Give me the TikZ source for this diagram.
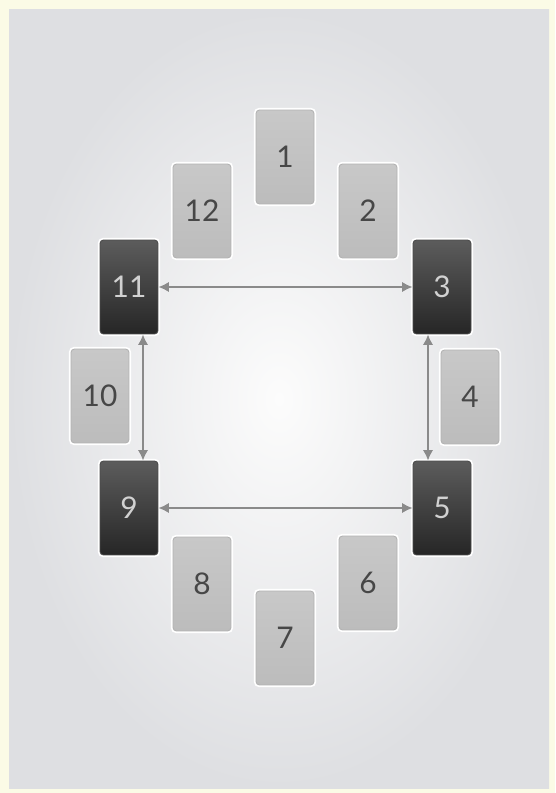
\documentclass[tikz,border=0pt]{standalone}
\usepackage{fontspec}
\setmainfont{Lato}
\usepackage{xcolor}
\usetikzlibrary{arrows.meta, positioning, shadings}

\definecolor{paleframe}{HTML}{FBFBE6}
\definecolor{panelout}{HTML}{DEDFE2}
\definecolor{panelin}{HTML}{FCFCFC}
\definecolor{lighttop}{HTML}{C8C8C8}
\definecolor{lightbot}{HTML}{BCBCBC}
\definecolor{darktop}{HTML}{5C5C5C}
\definecolor{darkbot}{HTML}{262626}
\definecolor{linkgray}{HTML}{8A8A8A}

\begin{document}
\begin{tikzpicture}[
    x=0.02cm, y=-0.02cm,
    card/.style={minimum width=1.16cm, minimum height=1.88cm,
      rounded corners=2pt, inner sep=0pt, font=\fontsize{17}{17}\selectfont,
      preaction={draw=white, line width=2.5pt}},
    lightcard/.style={card, draw=gray!60, line width=0.5pt,
      top color=lighttop, bottom color=lightbot, text=black!72},
    darkcard/.style={card, draw=black!70, line width=0.5pt,
      top color=darktop, bottom color=darkbot, text=white!82!black},
    link/.style={draw=linkgray, line width=1.5pt,
      {Latex[length=6pt,width=6pt]}-{Latex[length=6pt,width=6pt]}},
]
% Background
\fill[paleframe] (0,0) rectangle (555,793);
\shade[inner color=panelin, outer color=panelout] (9,10) rectangle (549,788);

% Light cards
\foreach \n/\x/\y in {
  1/285/157, 2/368/211, 4/470/397, 6/368/583,
  7/285/638, 8/202/584, 10/100/396, 12/202/211} {
  \node[lightcard] (c\n) at (\x,\y) {\n};
}

% Dark cards
\foreach \n/\x/\y in {3/442/287, 5/442/508, 9/129/508, 11/129/287} {
  \node[darkcard] (c\n) at (\x,\y) {\n};
}

% Links
\draw[link] (c11) -- (c3);
\draw[link] (c9) -- (c5);
\draw[link] ([xshift=0.28cm]c11.south) -- ([xshift=0.28cm]c9.north);
\draw[link] ([xshift=-0.28cm]c3.south) -- ([xshift=-0.28cm]c5.north);

\end{tikzpicture}
\end{document}
